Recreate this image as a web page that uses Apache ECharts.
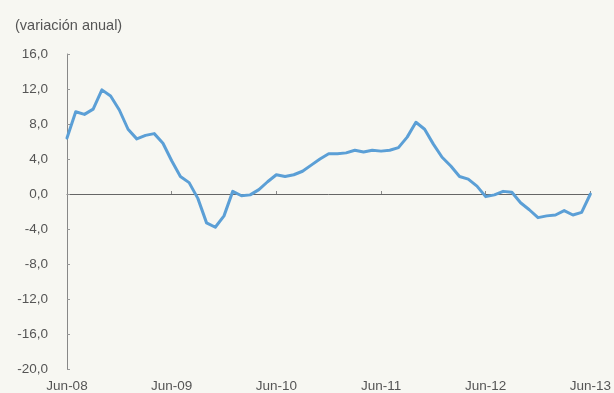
<!DOCTYPE html>
<html>
<head>
<meta charset="utf-8">
<script src="https://cdn.jsdelivr.net/npm/echarts@6/dist/echarts.min.js"></script>
<style>
html,body{margin:0;padding:0;background:#f7f7f2;}
#chart{width:614px;height:393px;}
</style>
</head>
<body>
<div id="chart"></div>
<script>
const titleText = '(variación anual)';
const months = [
  'Jun-08','Jul-08','Ago-08','Sep-08','Oct-08','Nov-08','Dic-08',
  'Ene-09','Feb-09','Mar-09','Abr-09','May-09','Jun-09','Jul-09','Ago-09','Sep-09','Oct-09','Nov-09','Dic-09',
  'Ene-10','Feb-10','Mar-10','Abr-10','May-10','Jun-10','Jul-10','Ago-10','Sep-10','Oct-10','Nov-10','Dic-10',
  'Ene-11','Feb-11','Mar-11','Abr-11','May-11','Jun-11','Jul-11','Ago-11','Sep-11','Oct-11','Nov-11','Dic-11',
  'Ene-12','Feb-12','Mar-12','Abr-12','May-12','Jun-12','Jul-12','Ago-12','Sep-12','Oct-12','Nov-12','Dic-12',
  'Ene-13','Feb-13','Mar-13','Abr-13','May-13','Jun-13'
];
const values = [
  6.4, 9.4, 9.1, 9.7, 11.9, 11.2, 9.6,
  7.4, 6.3, 6.7, 6.9, 5.8, 3.8, 2.0, 1.3, -0.5, -3.3, -3.8, -2.5,
  0.3, -0.2, -0.1, 0.5, 1.4, 2.2, 2.0, 2.2, 2.6, 3.3, 4.0, 4.6,
  4.6, 4.7, 5.0, 4.8, 5.0, 4.9, 5.0, 5.3, 6.5, 8.2, 7.4, 5.7,
  4.2, 3.2, 2.0, 1.7, 0.9, -0.3, -0.1, 0.3, 0.2, -1.0, -1.8, -2.7,
  -2.5, -2.4, -1.9, -2.4, -2.1, 0.0
];
const yMin = -20, yMax = 16, yStep = 4;

const chart = echarts.init(document.getElementById('chart'));
const textColor = '#555555';
chart.setOption({
  backgroundColor: '#f7f7f2',
  animation: false,
  title: {
    text: titleText, left: 10, top: 13,
    textStyle: {fontFamily: 'Liberation Sans', fontSize: 14.5, fontWeight: 'normal', color: textColor}
  },
  grid: {left: 67, right: 23, top: 54, bottom: 24, containLabel: false},
  xAxis: [
    {
      type: 'category', data: months, boundaryGap: false, position: 'bottom',
      axisLine: {show: false, onZero: false},
      axisTick: {show: false},
      axisLabel: {
        interval: 11, margin: 10, color: textColor,
        fontFamily: 'Liberation Sans', fontSize: 13.5
      },
      splitLine: {show: false}
    },
    {
      type: 'category', data: months, boundaryGap: false, position: 'bottom',
      axisLine: {show: true, onZero: true, lineStyle: {color: '#666666', width: 1}},
      axisTick: {show: true, inside: true, length: 3, interval: 11, lineStyle: {color: '#888888'}},
      axisLabel: {show: false},
      splitLine: {show: false}
    }
  ],
  yAxis: {
    type: 'value', min: yMin, max: yMax, interval: yStep,
    axisLine: {show: true, lineStyle: {color: '#888888', width: 1}},
    axisTick: {show: true, inside: true, length: 3, lineStyle: {color: '#999999'}},
    splitLine: {show: false},
    axisLabel: {
      margin: 19, color: textColor, fontFamily: 'Liberation Sans', fontSize: 13.5,
      formatter: v => v.toFixed(1).replace('.', ',')
    }
  },
  series: [{
    type: 'line', data: values, xAxisIndex: 0, showSymbol: false, symbol: 'none',
    lineStyle: {color: '#5b9fd6', width: 3, join: 'round', cap: 'round'}
  }]
});
</script>
</body>
</html>
